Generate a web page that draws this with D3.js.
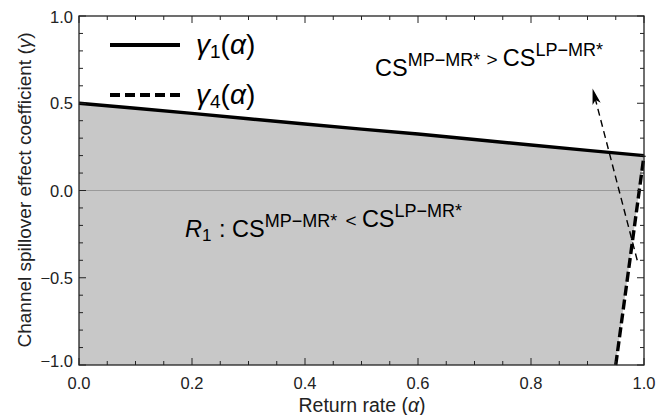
<!DOCTYPE html>
<html>
<head>
<meta charset="utf-8">
<script src="https://cdn.jsdelivr.net/npm/d3@7"></script>
<style>
  html, body { margin: 0; padding: 0; background: #fff; }
  svg { display: block; font-family: "Liberation Sans", Arial, sans-serif; }
</style>
</head>
<body>
<svg id="chart" width="670" height="415"></svg>
<script>
// Return rate (alpha) and the boundary curve gamma_1(alpha)
const alphaG1 = [0, 0.1, 0.2, 0.3, 0.4, 0.5, 0.6, 0.7, 0.8, 0.9, 1.0];
const gamma1  = [0.5, 0.471, 0.442, 0.411, 0.381, 0.352, 0.324, 0.292, 0.261, 0.23, 0.2];

// Boundary curve gamma_4(alpha), nearly vertical near alpha = 1
const alphaG4 = [0.95, 1.0];
const gamma4  = [-1.0, 0.2];

// Annotation arrow (from, to) in data units
const arrowAlpha = [0.988, 0.909];
const arrowGamma = [-0.40, 0.585];

// Tick values
const xMajor = [0, 0.2, 0.4, 0.6, 0.8, 1.0];
const xTickLabels = ["0.0", "0.2", "0.4", "0.6", "0.8", "1.0"];
const yMajor = [-1.0, -0.5, 0, 0.5, 1.0];
const yTickLabels = ["\u22121.0", "\u22120.5", "0.0", "0.5", "1.0"];

const svg = d3.select("#chart");
const L = 79, R = 644, T = 16, B = 365;
const x = d3.scaleLinear().domain([0, 1]).range([L, R]);
const y = d3.scaleLinear().domain([-1, 1]).range([B, T]);

const g1 = alphaG1.map((a, i) => [a, gamma1[i]]);
const g4 = alphaG4.map((a, i) => [a, gamma4[i]]);
const line = d3.line().x(d => x(d[0])).y(d => y(d[1]));

// Shaded region R1: below gamma_1 and left of gamma_4
const region = [[0, -1]].concat(g1, g4.slice().reverse());
svg.append("path").attr("d", line(region) + "Z").attr("fill", "#c8c8c8");

// zero reference line
svg.append("line")
  .attr("x1", x(0)).attr("x2", x(1)).attr("y1", y(0)).attr("y2", y(0))
  .attr("stroke", "#9a9a9a").attr("stroke-width", 1.2);

// gamma_1 curve
svg.append("path").attr("d", line(g1))
  .attr("fill", "none").attr("stroke", "#000").attr("stroke-width", 3.4);

// gamma_4 curve
svg.append("path").attr("d", line(g4))
  .attr("fill", "none").attr("stroke", "#000").attr("stroke-width", 3.4)
  .attr("stroke-dasharray", "10,4");

// annotation arrow
const ax0 = x(arrowAlpha[0]), ay0 = y(arrowGamma[0]);
const ax1 = x(arrowAlpha[1]), ay1 = y(arrowGamma[1]);
const ang = Math.atan2(ay1 - ay0, ax1 - ax0);
const headLen = 16, headW = 4.2;
const bx = ax1 - headLen * Math.cos(ang), by = ay1 - headLen * Math.sin(ang);
svg.append("line")
  .attr("x1", ax0).attr("y1", ay0).attr("x2", bx + 5 * Math.cos(ang)).attr("y2", by + 5 * Math.sin(ang))
  .attr("stroke", "#000").attr("stroke-width", 1.4).attr("stroke-dasharray", "7,4.5");
svg.append("path")
  .attr("d", `M${ax1},${ay1} L${bx - headW * Math.sin(ang)},${by + headW * Math.cos(ang)} L${bx + 4 * Math.cos(ang)},${by + 4 * Math.sin(ang)} L${bx + headW * Math.sin(ang)},${by - headW * Math.cos(ang)} Z`)
  .attr("fill", "#000");

// frame
svg.append("rect").attr("x", L).attr("y", T).attr("width", R - L).attr("height", B - T)
  .attr("fill", "none").attr("stroke", "#222").attr("stroke-width", 1.3);

// inward ticks on all four sides
const xMinor = d3.range(0, 1.0001, 0.05).filter(v => !xMajor.some(m => Math.abs(m - v) < 1e-6));
const yMinor = d3.range(-1, 1.0001, 0.1).filter(v => !yMajor.some(m => Math.abs(m - v) < 1e-6));
const tk = svg.append("g").attr("stroke", "#222").attr("stroke-width", 1);
function xt(vals, len) {
  vals.forEach(v => {
    tk.append("line").attr("x1", x(v)).attr("x2", x(v)).attr("y1", B).attr("y2", B - len);
    tk.append("line").attr("x1", x(v)).attr("x2", x(v)).attr("y1", T).attr("y2", T + len);
  });
}
function yt(vals, len) {
  vals.forEach(v => {
    tk.append("line").attr("y1", y(v)).attr("y2", y(v)).attr("x1", L).attr("x2", L + len);
    tk.append("line").attr("y1", y(v)).attr("y2", y(v)).attr("x1", R).attr("x2", R - len);
  });
}
xt(xMajor, 7); xt(xMinor, 4);
yt(yMajor, 7); yt(yMinor, 4);

// tick labels
svg.append("g").selectAll("text").data(xMajor).join("text")
  .attr("x", d => x(d)).attr("y", B + 24)
  .attr("text-anchor", "middle").attr("font-size", 16.5).attr("fill", "#222")
  .text((d, i) => xTickLabels[i]);
svg.append("g").selectAll("text").data(yMajor).join("text")
  .attr("x", L - 6).attr("y", d => y(d) + (d === -1 ? 2 : (d === 1 ? 7 : 6)))
  .attr("text-anchor", "end").attr("font-size", 16.5).attr("fill", "#222")
  .text((d, i) => yTickLabels[i]);

// axis titles
const xTitle = svg.append("text").attr("x", 362).attr("y", 411.5)
  .attr("text-anchor", "middle").attr("font-size", 19.5).attr("fill", "#222");
xTitle.append("tspan").text("Return rate (");
xTitle.append("tspan").attr("font-style", "italic").text("\u03b1");
xTitle.append("tspan").text(")");

const yTitle = svg.append("text")
  .attr("transform", "translate(31,190) rotate(-90)")
  .attr("text-anchor", "middle").attr("font-size", 19).attr("fill", "#222");
yTitle.append("tspan").text("Channel spillover effect coefficient (");
yTitle.append("tspan").attr("font-style", "italic").text("\u03b3");
yTitle.append("tspan").text(")");

// legend
const legendItems = [
  { sub: "1", dash: null, yy: 45 },
  { sub: "4", dash: "10,5", yy: 95 }
];
legendItems.forEach(d => {
  svg.append("line").attr("x1", 110).attr("x2", 180).attr("y1", d.yy).attr("y2", d.yy)
    .attr("stroke", "#000").attr("stroke-width", 4)
    .attr("stroke-dasharray", d.dash);
  const t = svg.append("text").attr("x", 196).attr("y", d.yy + 9).attr("font-size", 28).attr("fill", "#000");
  t.append("tspan").attr("font-style", "italic").text("\u03b3");
  t.append("tspan").attr("font-size", 19).attr("dy", 4).text(d.sub);
  t.append("tspan").attr("dy", -4).text("(");
  t.append("tspan").attr("font-style", "italic").text("\u03b1");
  t.append("tspan").text(")");
});

// region labels
function csLabel(sel, sup) {
  sel.append("tspan").text("CS");
  sel.append("tspan").attr("font-size", 18).attr("dy", -10).text(sup);
  sel.append("tspan").attr("dy", 10).text("");
}
const upperLabel = svg.append("text").attr("x", 375).attr("y", 76).attr("font-size", 23.5).attr("fill", "#000");
csLabel(upperLabel, "MP\u2212MR*");
upperLabel.append("tspan").attr("font-size", 19).attr("dx", 1).text(" > ");
csLabel(upperLabel, "LP\u2212MR*");

const regionLabel = svg.append("text").attr("x", 185).attr("y", 237).attr("font-size", 23.5).attr("fill", "#000");
regionLabel.append("tspan").attr("font-style", "italic").text("R");
regionLabel.append("tspan").attr("font-size", 17).attr("dy", 4).text("1");
regionLabel.append("tspan").attr("dy", -4).attr("dx", 1).text(" : ");
csLabel(regionLabel, "MP\u2212MR*");
regionLabel.append("tspan").attr("font-size", 19).attr("dx", 3).text(" < ");
regionLabel.append("tspan").attr("dx", 3).text("");
csLabel(regionLabel, "LP\u2212MR*");
</script>
</body>
</html>
